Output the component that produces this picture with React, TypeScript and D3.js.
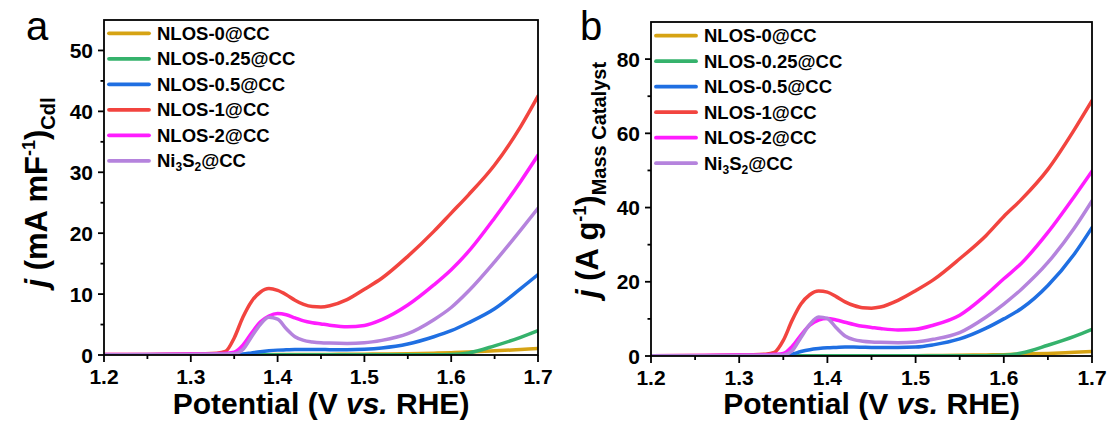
import React from "react";
import * as d3 from "d3";

const potentials = [1.20, 1.25, 1.30, 1.33, 1.34, 1.35, 1.36, 1.37, 1.38, 1.39, 1.40, 1.41, 1.42, 1.43, 1.44, 1.45, 1.46, 1.48, 1.50, 1.52, 1.55, 1.58, 1.60, 1.62, 1.65, 1.68, 1.70];

const seriesNames = ["NLOS-0@CC", "NLOS-0.25@CC", "NLOS-0.5@CC", "NLOS-1@CC", "NLOS-2@CC", "Ni3S2@CC"];
const seriesColors = ["#D6A314", "#35B26C", "#1F6FE2", "#F2443F", "#FF1CFF", "#B583DD"];

// Panel a: j (mA mF-1) Cdl
const aNLOS0 = [0.05, 0.05, 0.05, 0.05, 0.05, 0.05, 0.05, 0.05, 0.06, 0.06, 0.07, 0.07, 0.08, 0.08, 0.09, 0.09, 0.1, 0.12, 0.14, 0.17, 0.22, 0.3, 0.38, 0.48, 0.68, 0.9, 1.05];
const aNLOS025 = [0.05, 0.05, 0.05, 0.05, 0.05, 0.05, 0.05, 0.05, 0.05, 0.05, 0.05, 0.05, 0.05, 0.05, 0.05, 0.05, 0.05, 0.05, 0.05, 0.05, 0.05, 0.05, 0.1, 0.35, 1.5, 2.9, 4.0];
const aNLOS05 = [0.03, 0.03, 0.03, 0.03, 0.03, 0.03, 0.15, 0.35, 0.55, 0.7, 0.8, 0.85, 0.9, 0.9, 0.9, 0.9, 0.88, 0.88, 0.95, 1.15, 1.8, 3.0, 4.0, 5.3, 7.6, 10.9, 13.2];
const aNLOS1 = [0.08, 0.1, 0.15, 0.3, 0.6, 2.8, 6.2, 8.8, 10.3, 10.9, 10.6, 9.9, 9.0, 8.3, 7.95, 7.9, 8.1, 9.1, 10.8, 12.6, 16.2, 20.3, 23.3, 26.3, 31.2, 37.5, 42.5];
const aNLOS2 = [0.08, 0.1, 0.15, 0.22, 0.28, 0.45, 1.6, 3.6, 5.4, 6.4, 6.8, 6.6, 6.1, 5.6, 5.3, 5.1, 4.9, 4.65, 4.85, 5.8, 8.2, 11.5, 14.0, 17.0, 22.5, 28.5, 32.8];
const aNi3S2 = [0.05, 0.07, 0.1, 0.15, 0.18, 0.2, 0.9, 3.0, 5.0, 6.2, 5.9, 4.3, 3.0, 2.4, 2.15, 2.0, 1.95, 1.9, 2.0, 2.4, 3.5, 5.8, 7.8, 10.5, 15.3, 20.5, 24.1];

// Panel b: j (A g-1) Mass Catalyst
const bNLOS0 = [0.05, 0.05, 0.05, 0.05, 0.05, 0.05, 0.05, 0.05, 0.05, 0.05, 0.05, 0.06, 0.06, 0.06, 0.07, 0.07, 0.07, 0.08, 0.1, 0.14, 0.2, 0.3, 0.35, 0.5, 0.7, 1.0, 1.2];
const bNLOS025 = [0.05, 0.05, 0.05, 0.05, 0.05, 0.05, 0.05, 0.05, 0.05, 0.05, 0.05, 0.05, 0.05, 0.05, 0.05, 0.05, 0.05, 0.05, 0.05, 0.05, 0.05, 0.08, 0.2, 0.8, 2.9, 5.3, 7.2];
const bNLOS05 = [0.03, 0.03, 0.03, 0.03, 0.03, 0.03, 0.5, 1.2, 1.7, 2.0, 2.2, 2.3, 2.4, 2.4, 2.35, 2.3, 2.3, 2.3, 2.4, 3.0, 4.6, 7.5, 10.0, 12.8, 19.0, 27.5, 34.6];
const bNLOS1 = [0.1, 0.15, 0.25, 0.5, 1.0, 4.2, 9.6, 14.0, 16.5, 17.5, 17.2, 16.0, 14.6, 13.6, 13.0, 12.9, 13.2, 15.0, 17.6, 20.5, 26.2, 32.5, 37.6, 42.2, 50.3, 61.0, 68.8];
const bNLOS2 = [0.1, 0.15, 0.25, 0.35, 0.45, 0.7, 2.6, 5.6, 8.3, 9.7, 10.1, 9.7, 9.1, 8.5, 8.0, 7.7, 7.4, 7.0, 7.2, 8.3, 11.0, 16.5, 20.8, 25.0, 33.3, 43.0, 49.8];
const bNi3S2 = [0.05, 0.08, 0.12, 0.2, 0.25, 0.3, 1.4, 5.0, 8.5, 10.5, 10.1, 7.6, 5.4, 4.4, 4.0, 3.8, 3.7, 3.6, 3.8, 4.5, 6.3, 10.5, 14.0, 18.0, 25.2, 34.5, 41.8];

const xMajorTicks = [1.2, 1.3, 1.4, 1.5, 1.6, 1.7];
const xMinorTicks = [1.25, 1.35, 1.45, 1.55, 1.65];
const aYMajor = [0, 10, 20, 30, 40, 50];
const aYMinor = [5, 15, 25, 35, 45];
const bYMajor = [0, 20, 40, 60, 80];
const bYMinor = [10, 30, 50, 70];

const FONT = "Arial, 'Liberation Sans', sans-serif";

type PanelProps = {
  left: number; right: number; top: number; bottom: number;
  yMax: number; yMajor: number[]; yMinor: number[];
  data: number[][]; letter: string; letterX: number;
  titleX: number; titleShift: number; unitMain: string; unitSub: string;
  legendTop: number;
};

function Panel(p: PanelProps) {
  const x = d3.scaleLinear().domain([1.2, 1.7]).range([p.left, p.right]);
  const y = d3.scaleLinear().domain([0, p.yMax]).range([p.bottom, p.top]);
  const line = d3.line<number>().x((_, i) => x(potentials[i])).y((v) => y(v)).curve(d3.curveMonotoneX);
  const midY = (p.top + p.bottom) / 2;
  const legX = p.left + 5;
  return (
    <g>
      <defs>
        <clipPath id={"clip" + p.letter}>
          <rect x={p.left} y={p.top} width={p.right - p.left} height={p.bottom - p.top} />
        </clipPath>
      </defs>
      <g clipPath={`url(#clip${p.letter})`}>
        {p.data.map((d, i) => (
          <path key={i} d={line(d) || ""} fill="none" stroke={seriesColors[i]} strokeWidth={3.5} strokeLinejoin="round" strokeLinecap="round" />
        ))}
      </g>
      <rect x={p.left} y={p.top} width={p.right - p.left} height={p.bottom - p.top} fill="none" stroke="#000" strokeWidth={1.8} />
      {xMajorTicks.map((t) => (
        <g key={"xm" + t}>
          <line x1={x(t)} x2={x(t)} y1={p.bottom} y2={p.bottom + 7} stroke="#000" strokeWidth={1.8} />
          <text x={x(t)} y={p.bottom + 29} textAnchor="middle" fontFamily={FONT} fontWeight="bold" fontSize={21}>{t.toFixed(1)}</text>
        </g>
      ))}
      {xMinorTicks.map((t) => (
        <line key={"xn" + t} x1={x(t)} x2={x(t)} y1={p.bottom} y2={p.bottom + 4} stroke="#000" strokeWidth={1.8} />
      ))}
      {p.yMajor.map((t) => (
        <g key={"ym" + t}>
          <line x1={p.left - 6} x2={p.left} y1={y(t)} y2={y(t)} stroke="#000" strokeWidth={1.8} />
          <text x={p.left - 11} y={y(t) + 7.5} textAnchor="end" fontFamily={FONT} fontWeight="bold" fontSize={21}>{t}</text>
        </g>
      ))}
      {p.yMinor.map((t) => (
        <line key={"yn" + t} x1={p.left - 3.5} x2={p.left} y1={y(t)} y2={y(t)} stroke="#000" strokeWidth={1.8} />
      ))}
      <text x={(p.left + p.right) / 2} y={414} textAnchor="middle" fontFamily={FONT} fontWeight="bold" fontSize={30}>
        Potential (V <tspan fontStyle="italic">vs.</tspan> RHE)
      </text>
      <text transform={`translate(${p.titleX},${midY + p.titleShift}) rotate(-90)`} textAnchor="middle" fontFamily={FONT} fontWeight="bold" fontSize={31}>
        <tspan fontStyle="italic">j</tspan>
        <tspan> {p.unitMain}</tspan>
        <tspan fontSize={18} dy={-12}>-1</tspan>
        <tspan dy={12}>)</tspan>
        <tspan fontSize={20} dy={8}>{p.unitSub}</tspan>
      </text>
      <text x={p.letterX} y={40} fontFamily={FONT} fontSize={40}>{p.letter}</text>
      {seriesNames.map((n, i) => {
        const ly = p.legendTop + i * 25.5;
        return (
          <g key={n}>
            <line x1={legX} x2={legX + 40} y1={ly} y2={ly} stroke={seriesColors[i]} strokeWidth={3.8} strokeLinecap="round" />
            <text x={legX + 48} y={ly + 6.3} fontFamily={FONT} fontWeight="bold" fontSize={18.5}>
              {n === "Ni3S2@CC" ? (
                <>
                  Ni<tspan fontSize={12} dy={4}>3</tspan><tspan dy={-4}>S</tspan><tspan fontSize={12} dy={4}>2</tspan><tspan dy={-4}>@CC</tspan>
                </>
              ) : n}
            </text>
          </g>
        );
      })}
    </g>
  );
}

export default function App() {
  return (
    <svg width={1111} height={421} style={{ position: "absolute", left: 0, top: 0, background: "#fff" }}>
      <rect width={1111} height={421} fill="#fff" />
      <Panel left={104} right={538} top={20} bottom={355} yMax={55} yMajor={aYMajor} yMinor={aYMinor}
        data={[aNLOS0, aNLOS025, aNLOS05, aNLOS1, aNLOS2, aNi3S2]} letter="a" letterX={26}
        titleX={47} titleShift={5} unitMain="(mA mF" unitSub="Cdl" legendTop={33.3} />
      <Panel left={651} right={1092} top={22} bottom={356} yMax={90} yMajor={bYMajor} yMinor={bYMinor}
        data={[bNLOS0, bNLOS025, bNLOS05, bNLOS1, bNLOS2, bNi3S2]} letter="b" letterX={580}
        titleX={598} titleShift={-9} unitMain="(A g" unitSub="Mass Catalyst" legendTop={35.7} />
    </svg>
  );
}
